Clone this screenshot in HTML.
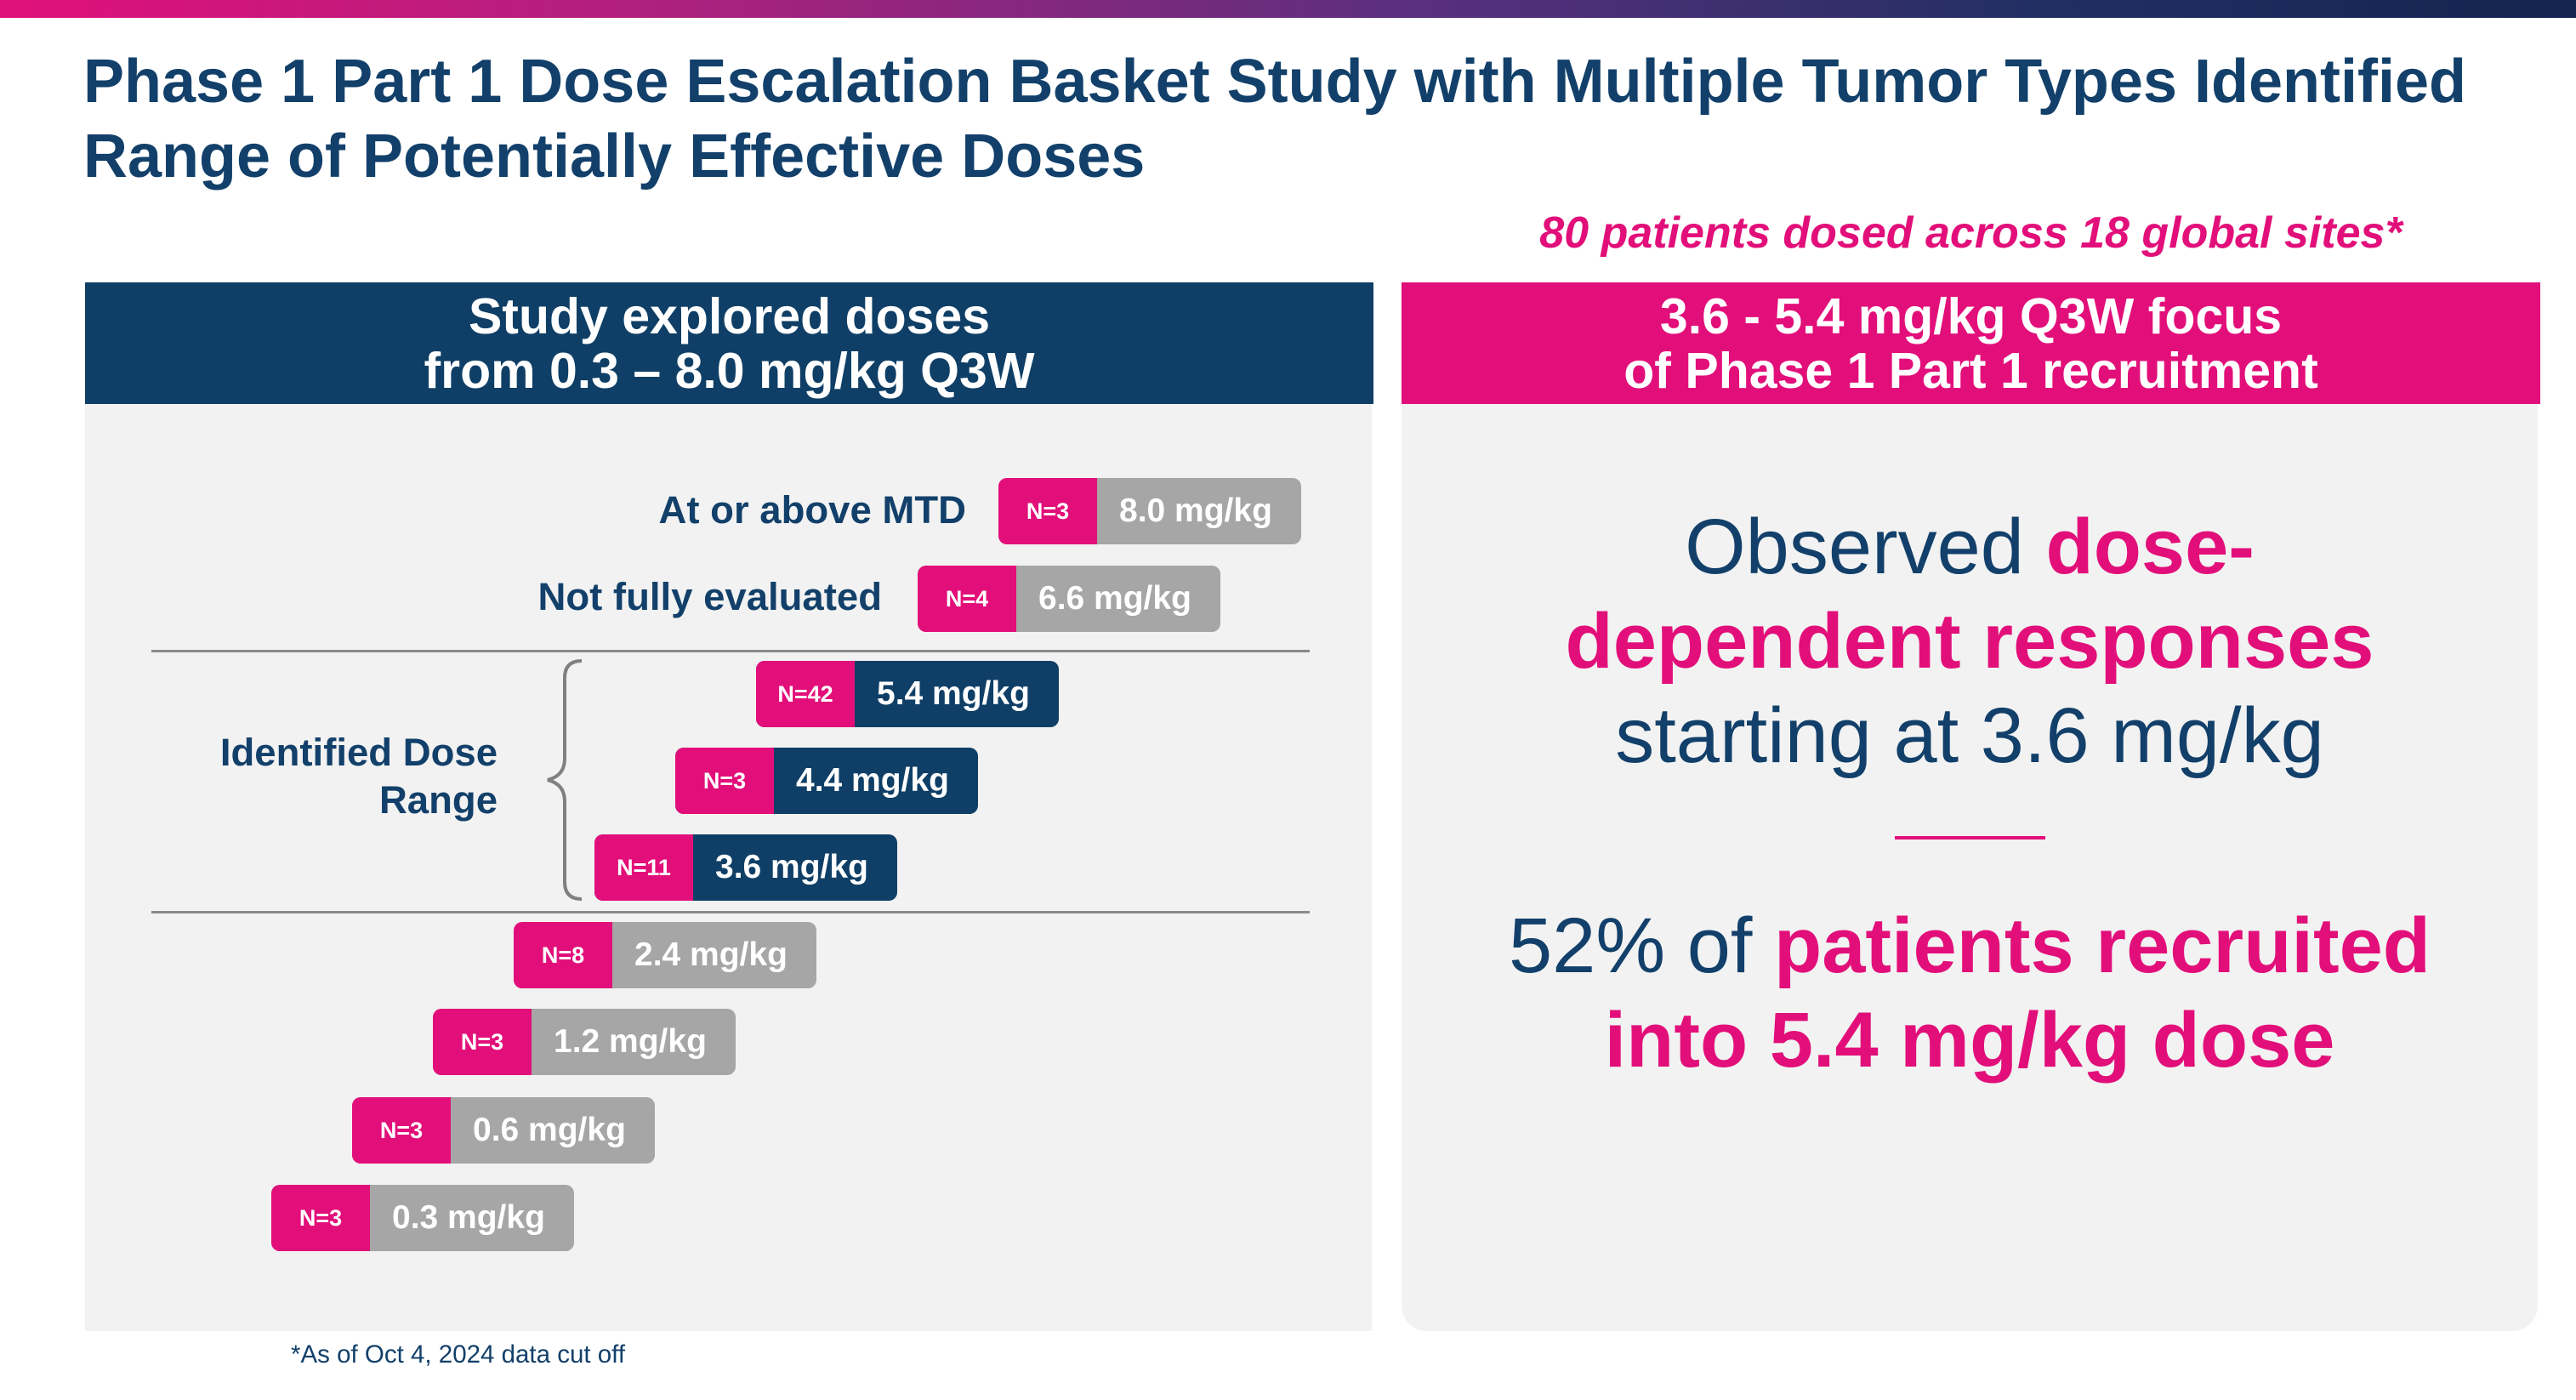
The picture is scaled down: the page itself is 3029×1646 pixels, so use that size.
<!DOCTYPE html>
<html><head><meta charset="utf-8">
<style>
*{margin:0;padding:0;box-sizing:border-box}
body{width:3029px;height:1646px;background:#fff;position:relative;overflow:hidden;font-family:"Liberation Sans",Arial,sans-serif}
.abs{position:absolute}
.navy{color:#12406a}
.pink{color:#e20f7a}
.t{white-space:nowrap}
</style></head><body>
<div class="abs" style="left:0;top:0;width:3029px;height:21px;background:linear-gradient(90deg,#e0107a 0%,#b0207e 25%,#5a2f7e 55%,#1f2f62 80%,#14244f 100%)"></div>
<div class="abs navy t" style="left:98px;top:52px;font-size:72px;font-weight:bold;line-height:88px">Phase 1 Part 1 Dose Escalation Basket Study with Multiple Tumor Types Identified<br>Range of Potentially Effective Doses</div>
<div class="abs pink t" style="left:1648px;width:1339px;top:244px;text-align:center;font-size:52px;font-weight:bold;font-style:italic">80 patients dosed across 18 global sites*</div>

<div class="abs" style="left:100px;top:332px;width:1515px;height:143px;background:#0f3f66;color:#fff;text-align:center;font-size:59px;font-weight:bold;line-height:64px;padding-top:8px">Study explored doses<br>from 0.3 – 8.0 mg/kg Q3W</div>
<div class="abs" style="left:100px;top:475px;width:1513px;height:1090px;background:#f2f2f2"></div>

<div class="abs" style="left:1648px;top:332px;width:1339px;height:143px;background:#e20f7a;color:#fff;text-align:center;font-size:59px;font-weight:bold;line-height:64px;padding-top:8px">3.6 - 5.4 mg/kg Q3W focus<br>of Phase 1 Part 1 recruitment</div>
<div class="abs" style="left:1648px;top:475px;width:1336px;height:1090px;background:#f2f2f2;border-radius:0 0 30px 30px"></div>

<div class="abs" style="left:178px;top:764px;width:1362px;height:3px;background:#8a8a8a"></div>
<div class="abs" style="left:178px;top:1071px;width:1362px;height:3px;background:#8a8a8a"></div>

<div class="abs navy t" style="right:1893px;top:574px;font-size:45.5px;font-weight:bold">At or above MTD</div>
<div class="abs navy t" style="right:1992px;top:676px;font-size:45.5px;font-weight:bold">Not fully evaluated</div>
<div class="abs navy t" style="right:2444px;top:857px;font-size:45.5px;font-weight:bold;text-align:right;line-height:56px">Identified Dose<br>Range</div>
<svg class="abs" style="left:630px;top:770px" width="60" height="295"><path d="M54 7 Q34 7 34 27 L34 122 Q34 142 14 147 Q34 152 34 172 L34 267 Q34 287 54 287" fill="none" stroke="#808080" stroke-width="4"/></svg>

<div id="bars"></div>

<div class="abs navy t" style="left:342px;top:1576px;font-size:29.5px">*As of Oct 4, 2024 data cut off</div>

<div class="abs" style="left:1648px;width:1336px;top:588px;text-align:center;font-size:92px;line-height:111px">
<div class="navy t">Observed <b class="pink">dose-</b></div>
<div class="pink t"><b>dependent responses</b></div>
<div class="navy t">starting at 3.6 mg/kg</div>
</div>
<div class="abs" style="left:2228px;top:983px;width:177px;height:4px;background:#e20f7a"></div>
<div class="abs" style="left:1648px;width:1336px;top:1057px;text-align:center;font-size:92px;line-height:111px">
<div class="navy t">52% of <b class="pink">patients recruited</b></div>
<div class="pink t"><b>into 5.4 mg/kg dose</b></div>
</div>

<script>
const doses = ["8.0","6.6","5.4","4.4","3.6","2.4","1.2","0.6","0.3"];
const counts = [3,4,42,3,11,8,3,3,3];
const slots = [9,8,6,5,4,3,2,1,0];
const tops = [562,665,777,879,981,1084,1186,1290,1393];
const inRange = [false,false,true,true,true,false,false,false,false];
const host = document.getElementById('bars');
function xOf(s){return 319 + 95*s;}
doses.forEach((d,i)=>{
  const g = document.createElement('div');
  
  
  g.style.cssText = `position:absolute;left:${xOf(slots[i])}px;top:${tops[i]}px;width:356px;height:78px;border-radius:10px;overflow:hidden;display:flex;background:${inRange[i]?'#0f3f66':'#a6a6a6'}`;
  const n = document.createElement('div');
  
  
  n.style.cssText = 'width:116px;height:78px;background:#e20f7a;color:#fff;font-weight:bold;font-size:27px;display:flex;align-items:center;justify-content:center';
  n.textContent = 'N=' + counts[i];
  const v = document.createElement('div');
  
  
  v.style.cssText = 'flex:1;color:#fff;font-weight:bold;font-size:39px;display:flex;align-items:center;padding-left:26px;white-space:nowrap';
  v.textContent = d + ' mg/kg';
  g.appendChild(n); g.appendChild(v);
  host.appendChild(g);
});
</script>
</body></html>
